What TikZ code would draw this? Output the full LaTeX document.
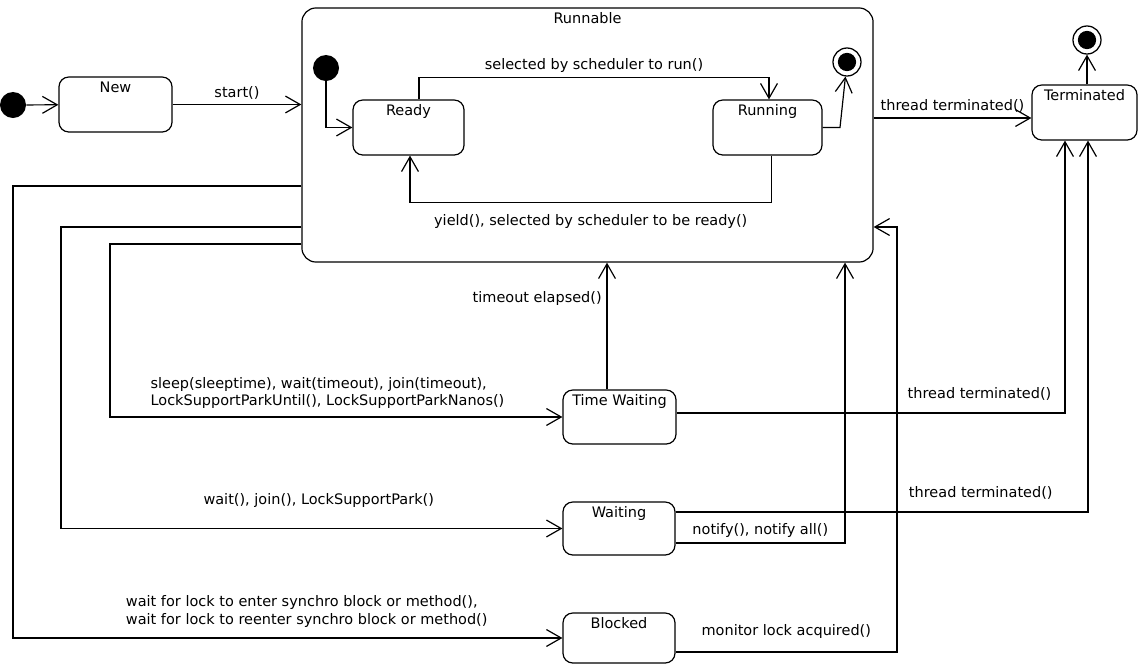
\documentclass[tikz,border=0pt]{standalone}
\usepackage{fontspec}
\setmainfont{DejaVu Sans}
\usepackage{tikz}
\usetikzlibrary{arrows.meta, positioning, calc}

\tikzset{
  stbox/.style={draw, rounded corners=7pt, line width=0.85pt, minimum width=2.8cm, minimum height=1.35cm,
    label={[anchor=north, inner sep=3.5pt]north:#1}},
  tr/.style={line width=0.85pt, -{Straight Barb[length=10.5pt, width=12pt, line width=0.85pt]}},
  initdot/.style={circle, fill=black, minimum size=0.65cm, inner sep=0pt},
  finaldot/.style={circle, draw, line width=0.9pt, minimum size=0.7cm, inner sep=0pt,
    path picture={\fill (path picture bounding box.center) circle (6.5pt);}},
}

\begin{document}
\begin{tikzpicture}[x=0.025cm, y=-0.025cm, font=\fontsize{10.3}{12.3}\selectfont]
    \useasboundingbox (0,0) rectangle (1140,665);

    \node[initdot] (init) at (13,105) {};
    \node[stbox=New, minimum width=2.825cm, minimum height=1.375cm] (new) at (115.5,104.5) {};
    \node[stbox=Runnable, minimum width=14.275cm, minimum height=6.35cm, rounded corners=10pt] (runnable) at (587.5,135) {};
    \node[initdot] (rinit) at (326,68) {};
    \node[stbox=Ready, minimum width=2.775cm, minimum height=1.375cm] (ready) at (408.5,127.5) {};
    \node[stbox=Running, minimum width=2.725cm, minimum height=1.375cm] (running) at (767.5,127.5) {};
    \node[finaldot] (rfinal) at (847,62) {};
    \node[stbox=Terminated, minimum width=2.625cm, minimum height=1.375cm] (term) at (1084.5,112.5) {};
    \node[finaldot] (tfinal) at (1087,40) {};
    \node[stbox=Time Waiting, minimum width=2.825cm] (tw) at (619.5,417) {};
    \node[stbox=Waiting, minimum height=1.325cm] (wt) at (619,528.5) {};
    \node[stbox=Blocked, minimum height=1.25cm] (bl) at (619,638) {};

    \draw[tr] (init) -- (new);
    \draw[tr] (new) -- node[above]{start()} (new -| runnable.west);

    % inside Runnable
    \draw[tr] (rinit) |- (ready);
    \draw[tr] ($(ready.north)+(10.5,0)$) -- ++(0,-22) -| node[pos=0.25, above]{selected by scheduler to run()} ($(running.north)+(1.5,0)$);
    \draw[tr] ($(running.south)+(4,0)$) -- ++(0,47) -| node[pos=0.25, below=5pt]{yield(), selected by scheduler to be ready()} ($(ready.south)+(1.5,0)$);
    \draw[tr] (running) -- (840,127.5) -- (rfinal);

    \draw[tr] (runnable.east |- 0,118) -- node[above]{thread terminated()} (term.west |- 0,118);
    \draw[tr] (term.north -| tfinal) -- (tfinal);

    % left side
    \draw[tr] (runnable.west |- 0,186) -- (13,186) |- node[pos=0.598, anchor=south west, yshift=4pt, align=left]{wait for lock to enter synchro block or method(),\\wait for lock to reenter synchro block or method()} (bl);
    \draw[tr] (runnable.west |- 0,227) -- (61,227) |- node[pos=0.757, above=11pt]{wait(), join(), LockSupportPark()} (wt);
    \draw[tr] (runnable.west |- 0,244) -- (110,244) |- node[pos=0.539, anchor=south west, yshift=2pt, align=left]{sleep(sleeptime), wait(timeout), join(timeout),\\LockSupportParkUntil(), LockSupportParkNanos()} (tw);

    % back to Runnable
    \draw[tr] (tw.north -| 607,0) -- node[pos=0.72, left]{timeout elapsed()} (runnable.south -| 607,0);
    \draw[tr] (wt.east |- 0,543) -- node[above]{notify(), notify all()} (845,543) -- (runnable.south -| 845,0);
    \draw[tr] (bl.east |- 0,652) -- node[above=6pt]{monitor lock acquired()} (897,652) -- (897,227) -- (runnable.east |- 0,227);

    % to Terminated
    \draw[tr] (tw.east |- 0,413) -- node[pos=0.78, above=5pt]{thread terminated()} (1065,413) -- (term.south -| 1065,0);
    \draw[tr] (wt.east |- 0,512) -- node[pos=0.74, above=5pt]{thread terminated()} (1088,512) -- (term.south -| 1088,0);
\end{tikzpicture}
\end{document}
